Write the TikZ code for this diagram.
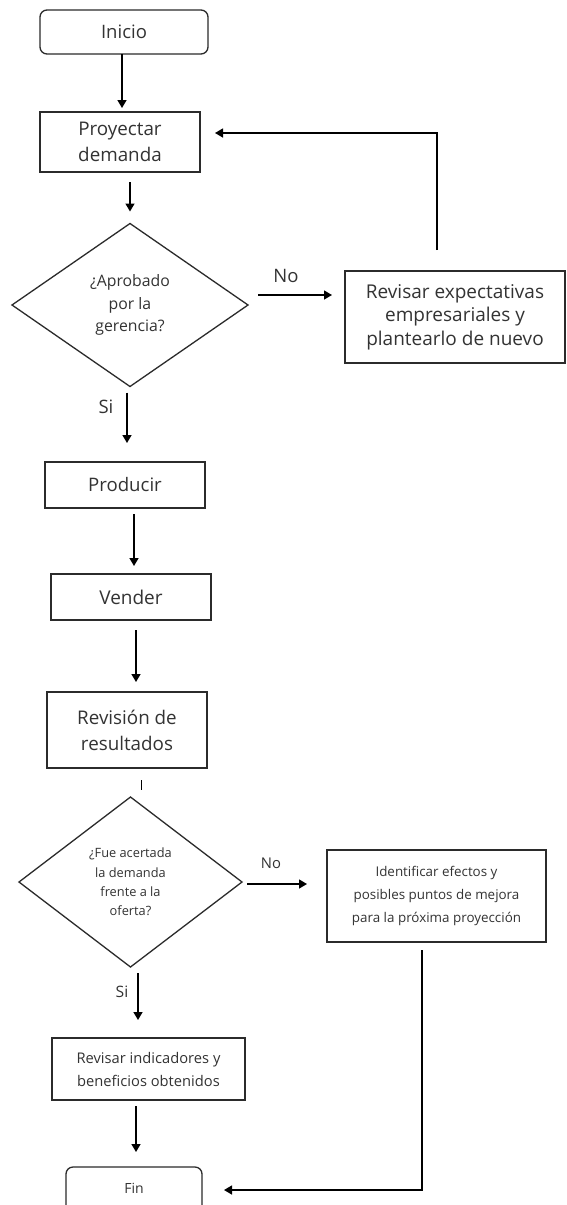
\documentclass[tikz,border=0pt]{standalone}
\usepackage{fontspec}
\setmainfont{Open Sans}
\usetikzlibrary{arrows.meta,shapes.geometric}
\definecolor{ink}{HTML}{333333}
\definecolor{edge}{HTML}{2B2B2B}
\newcommand{\fs}[2]{\fontsize{#1pt}{#2pt}\selectfont}

\tikzset{
  box/.style={draw=edge, line width=1.3pt, rectangle, inner sep=0pt, outer sep=0pt,
              align=center, text=ink},
  term/.style={box, rounded corners=7pt},
  decision/.style={diamond, draw=edge, line width=1.3pt, inner sep=0pt, outer sep=0pt,
                   align=center, text=ink},
  arr/.style={draw=black, line width=1.4pt, -{Triangle[length=8pt,width=9pt]}},
  plain/.style={draw=black, line width=1.4pt},
  lbl/.style={text=ink, inner sep=0pt},
}

\begin{document}
\begin{tikzpicture}[x=1pt,y=-1pt]
\useasboundingbox[fill=white] (0,0) rectangle (566,1205);

% main column
\node[term, minimum width=168pt, minimum height=44pt, font=\fs{18.5}{22}] (inicio) at (124,32)
  {Inicio};
\node[box, minimum width=160pt, minimum height=60pt, font=\fs{18.8}{26.7}] (proy) at (120,142)
  {Proyectar\\demanda};
\node[decision, minimum width=236pt, minimum height=163pt, font=\fs{15.8}{22.5}] (d1) at (130,305)
  {¿Aprobado\\por la\\gerencia?};
\node[box, minimum width=220pt, minimum height=92pt, font=\fs{19}{23.5}] (rev1) at (455,317)
  {Revisar expectativas\\empresariales y\\plantearlo de nuevo};
\node[box, minimum width=160pt, minimum height=46pt, font=\fs{18.6}{22}] (prod) at (125,485)
  {Producir};
\node[box, minimum width=160pt, minimum height=46pt, font=\fs{19}{22}] (vend) at (131,597)
  {Vender};
\node[box, minimum width=160pt, minimum height=76pt, font=\fs{18.8}{26}] (res) at (127,730)
  {Revisión de\\resultados};
\node[decision, minimum width=223pt, minimum height=170pt, font=\fs{12.8}{19.3}] (d2) at (130.5,882)
  {¿Fue acertada\\la demanda\\frente a la\\oferta?};
\node[box, minimum width=219pt, minimum height=92pt, font=\fs{13.4}{23}] (ident) at (436.5,896)
  {Identificar efectos y\\posibles puntos de mejora\\para la próxima proyección};
\node[box, minimum width=193pt, minimum height=62pt, font=\fs{14.7}{23}] (ind) at (148.5,1069)
  {Revisar indicadores y\\beneficios obtenidos};
\node[term, minimum width=136pt, minimum height=50pt, font=\fs{14}{18}] (fin) at (134,1192)
  {\raisebox{8pt}{Fin}};

% branch labels
\node[lbl, font=\fs{18.5}{20}] (no1) at (286,276) {No};
\node[lbl, font=\fs{18.5}{20}] (si1) at (106,407) {Si};
\node[lbl, font=\fs{14.8}{18}] (no2) at (271,863) {No};
\node[lbl, font=\fs{15.7}{18}] (si2) at (122,992) {Si};

% connectors
\draw[arr, shorten >=4pt] ([xshift=-2pt]inicio.south) -- ([xshift=-2pt]inicio.south |- proy.north);
\draw[arr, shorten <=10pt, shorten >=12pt] (proy.south -| d1.north) -- (d1.north);
\draw[arr] ([shift={(10pt,10pt)}]d1.east) -- ([shift={(-13pt,10pt)}]d1.east -| rev1.west);
\draw[arr, shorten >=15pt] ([shift={(-18pt,21pt)}]rev1.north) |- ([yshift=9pt]proy.east);
\draw[arr, shorten <=6pt, shorten >=19pt] ([xshift=-3pt]d1.south) -- ([xshift=-3pt]d1.south |- prod.north);
\draw[arr, shorten <=6pt, shorten >=8pt] ([xshift=9pt]prod.south) -- ([xshift=9pt]prod.south |- vend.north);
\draw[arr, shorten <=10pt, shorten >=10pt] ([xshift=5pt]vend.south) -- ([xshift=5pt]vend.south |- res.north);
\draw[plain] ([shift={(14.5pt,-12pt)}]res.south) -- ++(0pt,-10pt);
\draw[arr, shorten >=20pt] ([shift={(5pt,-2pt)}]d2.east) -- ([yshift=-2pt]d2.east -| ident.west);
\draw[arr, shorten <=6pt, shorten >=18pt] ([xshift=7.5pt]d2.south) -- ([xshift=7.5pt]d2.south |- ind.north);
\draw[arr, shorten <=6pt, shorten >=15pt] ([xshift=-12.5pt]ind.south) -- ([xshift=-12.5pt]ind.south |- fin.north);
\draw[arr, shorten >=22pt] ([shift={(-14.5pt,-8pt)}]ident.south) |- ([yshift=2pt]fin.east);
\end{tikzpicture}
\end{document}
